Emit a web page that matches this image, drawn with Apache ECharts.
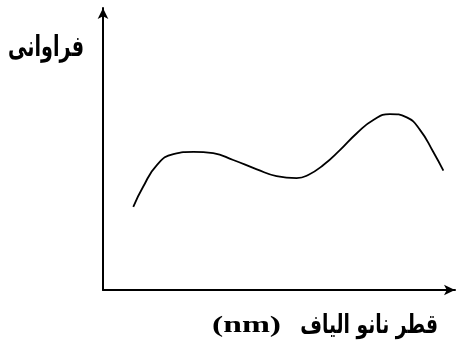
<!DOCTYPE html>
<html>
<head>
<meta charset="UTF-8">
<title></title>
<script src="https://cdn.jsdelivr.net/npm/echarts@6/dist/echarts.min.js"></script>
<style>
  html, body { margin: 0; padding: 0; background: #fff; }
</style>
</head>
<body>
<div id="main" style="width: 456px;height: 342px;"></div>
<script type="text/javascript">
// schematic distribution curve (arbitrary units 0-100)
var diameter = [8.6, 11.4, 15.3, 20.0, 25.7, 31.3, 37.0, 43.7, 49.3, 55.0, 58.3, 62.6, 67.3, 72.1, 76.8, 81.5, 86.3, 90.1, 93.8, 96.7];
var frequency = [29.5, 36.6, 44.3, 48.2, 49.0, 48.5, 46.1, 42.8, 40.4, 39.7, 40.8, 44.3, 49.6, 55.6, 60.3, 62.4, 61.2, 56.7, 49.0, 42.3];
var yTitle = 'فراوانی';
var xTitleFa = 'قطر نانو الیاف';
var xTitleUnit = '(nm)';

var points = [];
for (var i = 0; i < diameter.length; i++) {
    points.push([diameter[i], frequency[i]]);
}

var myChart = echarts.init(document.getElementById('main'));

var option = {
    animation: false,
    backgroundColor: '#fff',
    grid: { left: 103, top: 8, width: 352, height: 282 },
    xAxis: {
        type: 'value',
        min: 0,
        max: 100,
        axisLine: { lineStyle: { color: '#000', width: 2 }, symbol: ['none', 'arrow'], symbolSize: [8, 11] },
        axisTick: { show: false },
        axisLabel: { show: false },
        splitLine: { show: false }
    },
    yAxis: {
        type: 'value',
        min: 0,
        max: 100,
        axisLine: { show: true, lineStyle: { color: '#000', width: 2 }, symbol: ['none', 'arrow'], symbolSize: [8, 11] },
        axisTick: { show: false },
        axisLabel: { show: false },
        splitLine: { show: false }
    },
    graphic: [
        {
            type: 'text',
            x: 8,
            y: 48,
            scaleX: 0.66,
            style: { text: yTitle, font: 'bold 29px "DejaVu Sans"', fill: '#000', textAlign: 'left', textVerticalAlign: 'middle' }
        },
        {
            type: 'text',
            x: 212,
            y: 326,
            scaleX: 1.4,
            style: { text: xTitleUnit, font: 'bold 24px "Liberation Serif"', fill: '#000', textAlign: 'left', textVerticalAlign: 'middle' }
        },
        {
            type: 'text',
            x: 438,
            y: 326,
            scaleX: 0.72,
            style: { text: xTitleFa, font: 'bold 26px "DejaVu Sans"', fill: '#000', textAlign: 'right', textVerticalAlign: 'middle' }
        }
    ],
    series: [{
        type: 'line',
        smooth: true,
        showSymbol: false,
        lineStyle: { color: '#000', width: 1.8 },
        data: points
    }]
};
myChart.setOption(option);
</script>
</body>
</html>
